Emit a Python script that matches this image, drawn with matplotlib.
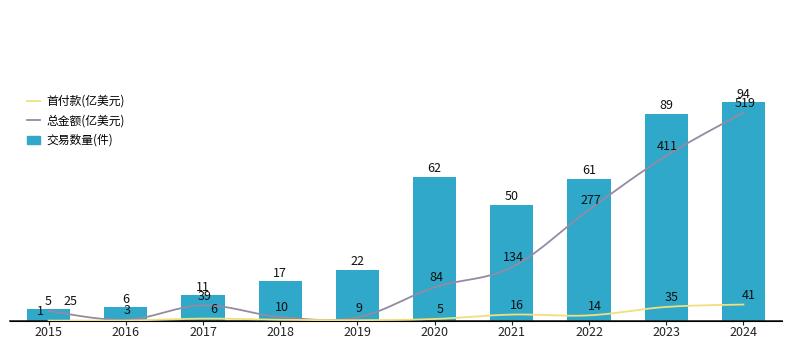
import numpy as np
import matplotlib
matplotlib.use("Agg")
import matplotlib.pyplot as plt
from matplotlib.lines import Line2D
from matplotlib.patches import Patch

plt.rcParams['font.family'] = ['Noto Sans CJK SC', 'DejaVu Sans']

years = ['2015', '2016', '2017', '2018', '2019', '2020', '2021', '2022', '2023', '2024']
deals = [5, 6, 11, 17, 22, 62, 50, 61, 89, 94]
total_amt = [25, 3, 39, 10, 9, 84, 134, 277, 411, 519]
down_pay = [1, 1, 6, 3, 2, 5, 16, 14, 35, 41]
down_show = [True, False, True, False, False, True, True, True, True, True]

BAR_C = '#2fa8c9'
TOT_C = '#958aa3'
DP_C = '#f1df7e'


def smooth(x, y, n=20):
    x = np.asarray(x, float); y = np.asarray(y, float)
    xs, ys = [], []
    m = len(x)
    for i in range(m - 1):
        p0 = (x[max(i - 1, 0)], y[max(i - 1, 0)])
        p1 = (x[i], y[i]); p2 = (x[i + 1], y[i + 1])
        p3 = (x[min(i + 2, m - 1)], y[min(i + 2, m - 1)])
        t = np.linspace(0, 1, n, endpoint=False)
        k = 0.35
        c1 = (p1[0] + k * (p2[0] - p0[0]) / 2, p1[1] + k * (p2[1] - p0[1]) / 2)
        c2 = (p2[0] - k * (p3[0] - p1[0]) / 2, p2[1] - k * (p3[1] - p1[1]) / 2)
        bx = (1-t)**3*p1[0] + 3*(1-t)**2*t*c1[0] + 3*(1-t)*t**2*c2[0] + t**3*p2[0]
        by = (1-t)**3*p1[1] + 3*(1-t)**2*t*c1[1] + 3*(1-t)*t**2*c2[1] + t**3*p2[1]
        xs.extend(bx); ys.extend(by)
    xs.append(x[-1]); ys.append(y[-1])
    return np.array(xs), np.array(ys)


fig = plt.figure(figsize=(7.94, 3.49), dpi=100)
ax = fig.add_axes([10/794, 28/349, 772/794, 233/349])
ax2 = ax.twinx()

x = np.arange(len(years))
ax.bar(x, deals, width=0.56, color=BAR_C, zorder=2)
ax.set_ylim(0, 100)
ax.set_xlim(-0.5, len(years) - 0.5)
for xi, v in zip(x, deals):
    ax.annotate(str(v), (xi, v), xytext=(0, 1), textcoords='offset points',
                ha='center', va='bottom', fontsize=9, color='#111111')

ax2.set_ylim(0, 580)
sx, sy = smooth(x, total_amt)
ax2.plot(sx, sy, color=TOT_C, lw=1.3, zorder=3)
sx, sy = smooth(x, down_pay)
ax2.plot(sx, sy, color=DP_C, lw=1.3, zorder=3)

for i, v in enumerate(total_amt):
    dx = 16 if i == 0 else 1
    ax2.annotate(str(v), (x[i], v), xytext=(dx, 2), textcoords='offset points',
                 ha='center', va='bottom', fontsize=9, color='#111111')
for i, v in enumerate(down_pay):
    if not down_show[i]:
        continue
    dx = -6 if i == 0 else (8 if i == 2 else 4)
    ax2.annotate(str(v), (x[i], v), xytext=(dx, 2), textcoords='offset points',
                 ha='center', va='bottom', fontsize=9, color='#111111')

for a in (ax, ax2):
    for s in ('top', 'right', 'left'):
        a.spines[s].set_visible(False)
    a.set_yticks([])
ax.spines['bottom'].set_color('#222222')
ax.spines['bottom'].set_linewidth(1.2)
ax.set_xticks(x)
ax.set_xticklabels(years, fontsize=9, color='#222222')
ax.tick_params(axis='x', length=3, width=0.8, color='#222222', pad=0.5)

handles = [Line2D([], [], color=DP_C, lw=1.3),
           Line2D([], [], color=TOT_C, lw=1.3),
           Patch(facecolor=BAR_C, edgecolor=BAR_C)]
labels = ['首付款(亿美元)', '总金额(亿美元)', '交易数量(件)']
fig.legend(handles, labels, loc='upper left', bbox_to_anchor=(27/794, 1 - 95/349),
           frameon=False, fontsize=8.5, handlelength=1.1, handletextpad=0.55,
           labelspacing=0.55, borderaxespad=0, borderpad=0)

fig.savefig('out.png', dpi=100)
